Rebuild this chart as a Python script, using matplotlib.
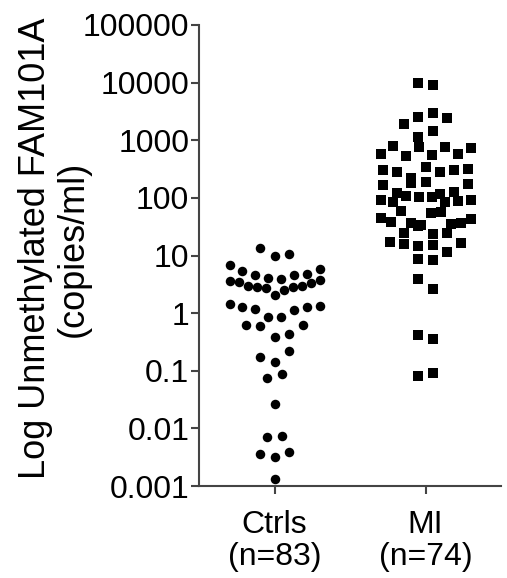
import numpy as np
import matplotlib.pyplot as plt
from matplotlib.ticker import NullLocator

plt.rcParams['font.family'] = ['Liberation Sans', 'DejaVu Sans']

# valores (copias/ml), de arriba a abajo, de izquierda a derecha
ctrls = [13.6, 10, 10.7,
         6.8, 5.3, 4.5, 4.1, 3.9, 4.5, 4.8, 5.9,
         3.6, 3.4, 3.0, 2.8, 2.7, 2.1, 2.5, 2.8, 3.0, 3.35, 3.7,
         1.46, 1.3, 1.16, 0.87, 0.84, 1.14, 1.26, 1.35,
         0.63, 0.59, 0.39, 0.43, 0.61,
         0.17, 0.14, 0.22,
         0.076, 0.089,
         0.027,
         0.0072, 0.0075,
         0.0036, 0.0032, 0.0039,
         0.00132]

mi = [9680, 9050,
      1900, 2580, 3030, 2440,
      1140, 1430,
      571, 796, 542, 777, 564, 770, 578, 735,
      304, 281, 221, 349, 278, 301, 313,
      165, 123, 184, 191, 115, 126, 177,
      90.5, 85.9, 106, 105, 102, 84.5, 88, 93,
      44.5, 37.9, 58.9, 36, 34.2, 53.8, 56.6, 34.6, 37, 43.5,
      24.1, 32.3, 23.2, 24.8,
      17, 16, 14.9, 15.5, 11.7, 16.8,
      8.8, 8.2,
      3.9,
      2.6,
      0.42, 0.35,
      0.080, 0.093]

grupos = ['Ctrls\n(n=83)', 'MI\n(n=74)']
ticks_y = [1e-3, 1e-2, 1e-1, 1, 10, 100, 1000, 10000, 100000]
etiquetas_y = ['0.001', '0.01', '0.1', '1', '10', '100', '1000', '10000', '100000']

fig = plt.figure(figsize=(5.07, 5.78), dpi=100)
ax = fig.add_axes([199 / 507, 92 / 578, 302 / 507, 461 / 578])
ax.set_yscale('log')
ax.set_ylim(1e-3, 1e5)
ax.set_xlim(-0.5, 1.5)


def repartir(valores, pos, alto=14.5, paso=14.3, ancho=90):
    # agrupa por filas (en pixeles) y reparte cada fila a lo ancho
    valores = np.asarray(valores, dtype=float)
    y_px = ax.transData.transform(np.column_stack([np.full(len(valores), pos), valores]))[:, 1]
    px_x = ax.transData.transform((1, 1))[0] - ax.transData.transform((0, 1))[0]
    orden = np.argsort(-y_px)
    filas, actual, inicio = [], [], None
    for i in orden:
        if inicio is None or inicio - y_px[i] > alto:
            if actual:
                filas.append(actual)
            actual, inicio = [], y_px[i]
        actual.append(i)
    filas.append(actual)
    xs = np.zeros(len(valores))
    for fila in filas:
        fila = sorted(fila)
        n = len(fila)
        d = paso if n < 2 else min(paso, ancho / (n - 1))
        for k, i in enumerate(fila):
            xs[i] = pos + (k - (n - 1) / 2) * d / px_x
    return xs


x_c = repartir(ctrls, 0)
x_m = repartir(mi, 1)
ax.scatter(x_c, ctrls, marker='o', s=47, color='black', linewidths=0, clip_on=False, zorder=3)
ax.scatter(x_m, mi, marker='s', s=52, color='black', linewidths=0, clip_on=False, zorder=3)

ax.set_yticks(ticks_y)
ax.set_yticklabels(etiquetas_y)
ax.yaxis.set_minor_locator(NullLocator())
ax.set_xticks([0, 1])
ax.set_xticklabels(grupos, linespacing=1.12)

for lado in ['top', 'right']:
    ax.spines[lado].set_visible(False)
for lado in ['left', 'bottom']:
    ax.spines[lado].set_linewidth(1.5)
    ax.spines[lado].set_color('#444444')
ax.tick_params(axis='y', length=6, width=1.5, color='#444444', labelsize=23, pad=1)
ax.tick_params(axis='x', length=6, width=1.5, color='#444444', labelsize=23, pad=11)

ax.set_ylabel('Log Unmethylated FAM101A\n(copies/ml)', fontsize=26, linespacing=1.1)
ax.yaxis.set_label_coords(-0.36, 0.515)

fig.savefig('out.png', dpi=100)
